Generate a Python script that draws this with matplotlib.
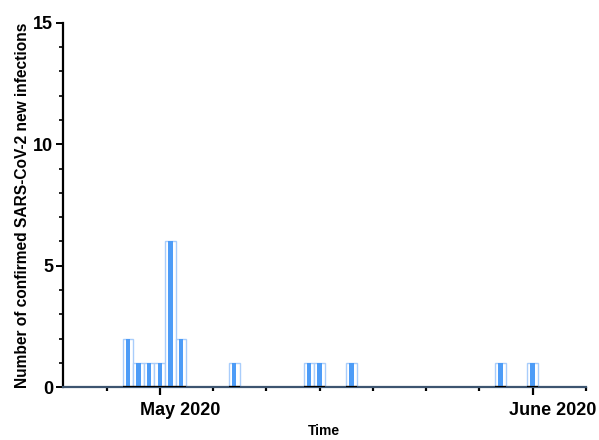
import matplotlib
matplotlib.use("Agg")
import matplotlib.pyplot as plt
import matplotlib.transforms as mtransforms

# day index (0 = first reported day), daily new infections
days = [0, 1, 2, 3, 4, 5, 10, 17, 18, 21, 35, 38]
cases = [2, 1, 1, 1, 6, 2, 1, 1, 1, 1, 1, 1]

# x tick positions (days) and labels
minor_days = [-2, 3, 8, 13, 18, 23, 28, 33, 38, 43]
label_days = [3, 38]
label_text = ["May 2020", "June 2020"]

plt.rcParams['font.family'] = ['Liberation Sans', 'DejaVu Sans']

fig = plt.figure(figsize=(5.99, 4.4), dpi=100)
ax = fig.add_axes([0.105, 0.12, 0.873, 0.828])

outline = "#a9cdfb"
core = "#4d9cf7"

# outer bar (light outline, white fill) and inner blue core
ax.bar(days, cases, width=1.0, color="white", edgecolor=outline, linewidth=1.0, zorder=2)
ax.bar(days, cases, width=0.4, color=core, linewidth=0, zorder=3)
ax.hlines([0] * len(days), [d - 0.5 for d in days], [d + 0.5 for d in days],
          color="black", linewidth=1.6, zorder=4)

ax.set_xlim(-6.1, 43)
ax.set_ylim(0, 15)

ax.spines['top'].set_visible(False)
ax.spines['right'].set_visible(False)
ax.spines['left'].set_linewidth(1.6)
ax.spines['left'].set_color("black")
ax.spines['bottom'].set_linewidth(1.6)
ax.spines['bottom'].set_color("#3d5570")

ax.set_yticks([0, 5, 10, 15])
ax.set_yticks(range(0, 16), minor=True)
ax.tick_params(axis='y', which='major', length=5, width=1.4, labelsize=13, pad=2)
ax.tick_params(axis='y', which='minor', length=3, width=1.2)
for t in ax.get_yticklabels():
    t.set_fontweight('bold')

ax.set_xticks(label_days)
ax.set_xticklabels(label_text, fontsize=13, fontweight='bold')
ax.set_xticks(minor_days, minor=True)
ax.tick_params(axis='x', which='major', length=6, width=1.6, pad=5)
ax.tick_params(axis='x', which='minor', length=3, width=1.6)

# month labels sit a little to the right of their ticks
shift = mtransforms.ScaledTranslation(0.2, 0, fig.dpi_scale_trans)
for t in ax.get_xticklabels():
    t.set_transform(t.get_transform() + shift)

ax.set_xlabel("Time", fontsize=10, fontweight='bold', labelpad=3)
ax.set_ylabel("Number of confirmed SARS-CoV-2 new infections", fontsize=11.2,
              fontweight='bold', labelpad=2)

fig.savefig("out.png", dpi=100)
